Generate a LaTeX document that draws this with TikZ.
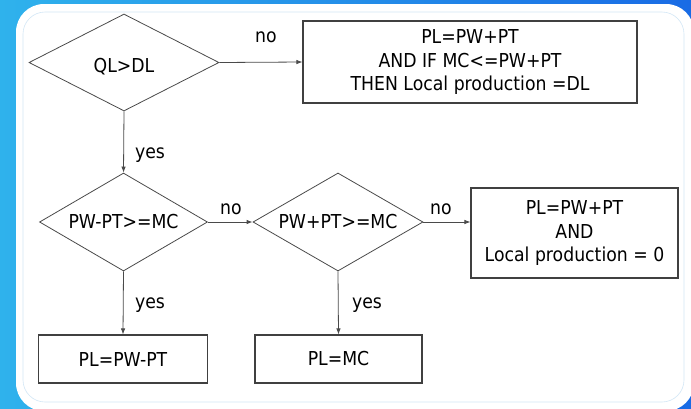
\documentclass[tikz,border=0pt]{standalone}
\usepackage{fontspec}
\setmainfont{DejaVu Sans}[FakeStretch=0.9]
\usepackage{tikz}
\usetikzlibrary{shapes, arrows.meta, positioning}
\definecolor{skyleft}{HTML}{2FB2EC}
\definecolor{skyright}{HTML}{196BE5}
\definecolor{rimblue}{HTML}{D3E7F6}
\definecolor{inkgray}{HTML}{4A4A4A}

\begin{document}
\begin{tikzpicture}[x=1pt,y=-1pt,
    every node/.style={font=\fontsize{19.2}{23.5}\selectfont, text=black},
    decision/.style={diamond, draw=inkgray, line width=0.8pt, inner sep=0pt},
    result/.style={rectangle, draw=black!75, line width=1.1pt, inner sep=0pt, align=center},
    flow/.style={draw=inkgray, line width=0.8pt, -{Latex[length=6pt,width=4.5pt]}}]

    % Blue backdrop with white panel
    \useasboundingbox (0,0) rectangle (691,408);
    \clip (0,0) rectangle (691,408);
    \fill[left color=skyleft, right color=skyright] (0,0) rectangle (691,408);
    \fill[white, rounded corners=28pt] (16,4) rectangle (694,411);
    \draw[rimblue, line width=0.6pt, rounded corners=22pt] (23,12) rectangle (684,402);

    % Decisions
    \node[decision, minimum width=190pt, minimum height=97pt,
          label={[yshift=-4pt]center:QL>DL}] (qldl) at (124,62.5) {};
    \node[decision, minimum width=168pt, minimum height=98pt,
          label={center:PW-PT>=MC}] (pwmt) at (123.5,222) {};
    \node[decision, minimum width=170pt, minimum height=98pt,
          label={center:PW+PT>=MC}] (pwpt) at (338,222) {};

    % Outcomes
    \node[result, minimum width=334pt, minimum height=82pt] (dlbox) at (470,62)
        {PL=PW+PT\\AND IF MC<=PW+PT\\THEN Local production =DL};
    \node[result, minimum width=207pt, minimum height=90pt] (zerobox) at (574.5,233)
        {PL=PW+PT\\AND\\Local production = 0};
    \node[result, minimum width=169pt, minimum height=48pt] (minusbox) at (123,359) {PL=PW-PT};
    \node[result, minimum width=167pt, minimum height=48pt] (mcbox) at (338.5,359) {PL=MC};

    % Connectors
    \draw[flow] (qldl.east) -- (dlbox.west);
    \draw[flow] (qldl.south) -- (pwmt.north);
    \draw[flow] (pwmt.east) -- (pwpt.west);
    \draw[flow] (pwpt.east) -- (pwpt.east -| zerobox.west);
    \draw[flow] (pwmt.south) -- (minusbox.north);
    \draw[flow] (pwpt.south) -- (mcbox.north);

    % Branch labels
    \node (no1) at (266,37) {no};
    \node (yes1) at (150,155) {yes};
    \node (no2) at (231,209) {no};
    \node (no3) at (441,209) {no};
    \node (yes2) at (150,305) {yes};
    \node (yes3) at (367,305) {yes};

\end{tikzpicture}
\end{document}
